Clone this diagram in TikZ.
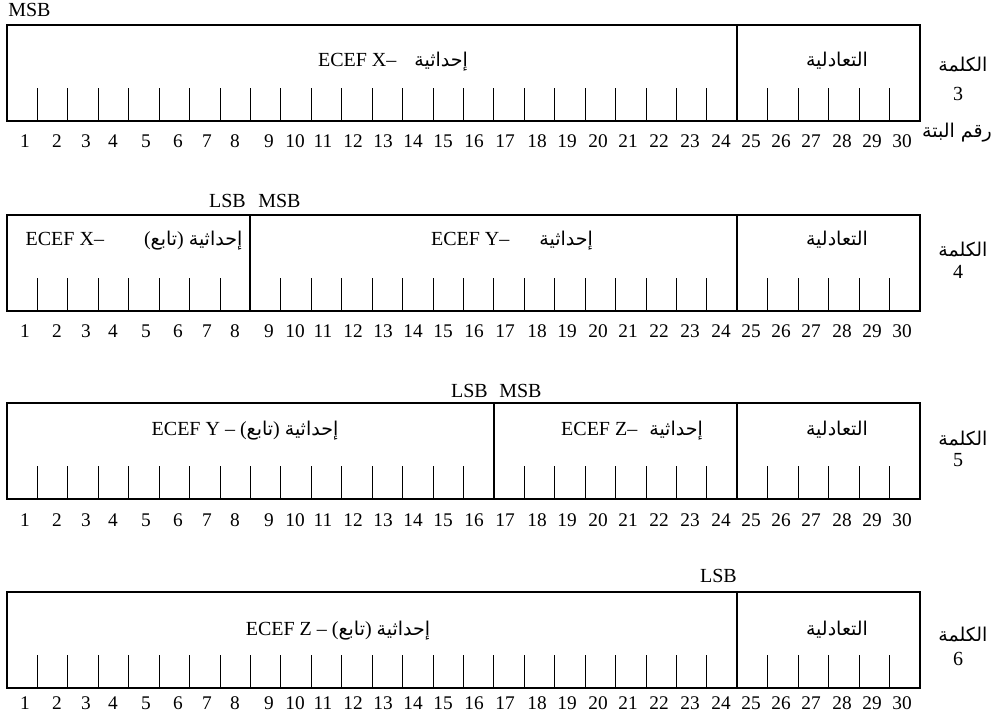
\documentclass[tikz,border=0pt]{standalone}
\usepackage{fontspec}
\setmainfont{Liberation Serif}
\newfontfamily\arabicfont[Script=Arabic,Scale=0.95]{DejaVu Sans}
\TeXXeTstate=1
\newcommand{\artxt}[1]{{\arabicfont\beginR #1\endR}}

\tikzset{
  wordbox/.style={line width=1.5pt},
  bittick/.style={line width=0.6pt},
  bitnum/.style={inner sep=0pt, text height=0.68em, text depth=0pt, font=\fontsize{14.5}{16}\selectfont},
  fieldtxt/.style={inner sep=0pt, text height=0.7em, text depth=0.2em, font=\fontsize{15}{17}\selectfont},
  bitmark/.style={inner sep=0pt, text height=0.68em, text depth=0pt, font=\fontsize{15}{17}\selectfont},
}

\begin{document}
\begin{tikzpicture}[x=0.75pt, y=-0.75pt]
	\useasboundingbox (0,0) rectangle (996,725);
	
	% Cadres, graduations et numeros de bits des quatre mots
	\foreach \w/\T/\N/\P in {3/25/143/63, 4/215/333/242, 5/403/522/432, 6/592/705/632} {
		\draw[wordbox] (7,\T) rectangle (920,\T+96);
		\foreach \i in {1,...,29}
			\draw[bittick] ({7+\i*30.43},\T+63) -- ({7+\i*30.43},\T+96);
		\draw[wordbox] ({7+24*30.43},\T) -- ({7+24*30.43},\T+96);
		\foreach \i/\x in {1/25, 2/57, 3/86, 4/113, 5/146, 6/178, 7/207, 8/235, 9/269, 10/295,
		                   11/323, 12/353, 13/383, 14/413, 15/443, 16/474, 17/505, 18/537,
		                   19/567, 20/598, 21/628, 22/659, 23/690, 24/721, 25/751, 26/781,
		                   27/811, 28/842, 29/872, 30/902}
			\node[bitnum] (b\w-\i) at (\x,\N) {\i};
		\node[fieldtxt] (par\w) at (837,\P) {\artxt{التعادلية}};
	}
	
	% Mot 3
	\node[bitmark, anchor=west] (msb3) at (8,12) {MSB};
	\node[fieldtxt] (x3) at (393,63) {ECEF X–\hspace{0.9em}\artxt{إحداثية}};
	\node[fieldtxt] (w3) at (963,68) {\artxt{الكلمة}};
	\node[fieldtxt] (n3) at (958,97) {3};
	\node[fieldtxt] (bitlbl) at (957,134) {\artxt{رقم البتة}};
	
	% Mot 4
	\draw[wordbox] ({7+8*30.43},215) -- ({7+8*30.43},311);
	\node[bitmark, anchor=east] (lsb4) at (246,203) {LSB};
	\node[bitmark, anchor=west] (msb4) at (258,203) {MSB};
	\node[fieldtxt] (x4) at (134,242) {ECEF X–\hspace{2em}(\artxt{تابع}) \artxt{إحداثية}};
	\node[fieldtxt] (y4) at (512,242) {ECEF Y–\hspace{1.5em}\artxt{إحداثية}};
	\node[fieldtxt] (w4) at (963,253) {\artxt{الكلمة}};
	\node[fieldtxt] (n4) at (958,275) {4};
	
	% Mot 5
	\draw[wordbox] ({7+16*30.43},403) -- ({7+16*30.43},499);
	\node[bitmark, anchor=east] (lsb5) at (488,393) {LSB};
	\node[bitmark, anchor=west] (msb5) at (499,393) {MSB};
	\node[fieldtxt] (y5) at (245,432) {ECEF Y – (\artxt{تابع}) \artxt{إحداثية}};
	\node[fieldtxt] (z5) at (632,432) {ECEF Z–\hspace{0.6em}\artxt{إحداثية}};
	\node[fieldtxt] (w5) at (963,442) {\artxt{الكلمة}};
	\node[fieldtxt] (n5) at (958,463) {5};
	
	% Mot 6
	\node[bitmark, anchor=east] (lsb6) at (737,578) {LSB};
	\node[fieldtxt] (z6) at (338,632) {ECEF Z – (\artxt{تابع}) \artxt{إحداثية}};
	\node[fieldtxt] (w6) at (963,638) {\artxt{الكلمة}};
	\node[fieldtxt] (n6) at (958,662) {6};
\end{tikzpicture}
\end{document}
